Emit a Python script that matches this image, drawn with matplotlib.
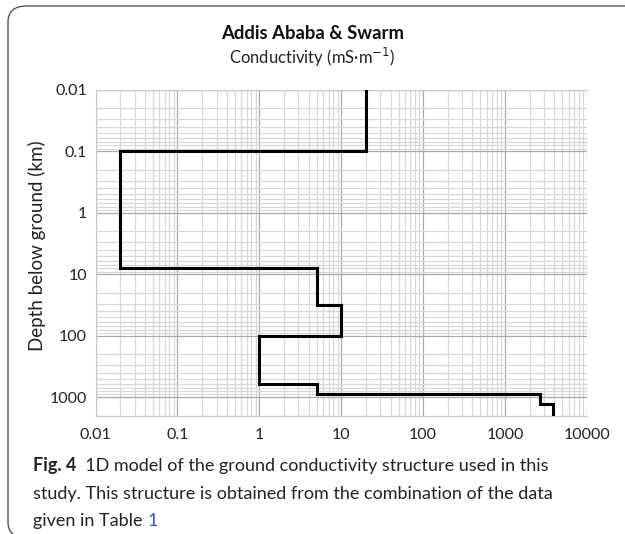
import numpy as np
import matplotlib.pyplot as plt
from matplotlib.patches import FancyBboxPatch

# layered conductivity model: top depth (km) and conductivity (mS/m) of each layer
layer_top = [0.01, 0.1, 8, 32, 100, 600, 900, 1300]
conductivity = [20, 0.02, 5, 10, 1, 5, 2700, 3800]
bottom_depth = 2000

x_ticks = [0.01, 0.1, 1, 10, 100, 1000, 10000]
y_ticks = [0.01, 0.1, 1, 10, 100, 1000]

plt.rcParams['font.family'] = ['Lato', 'DejaVu Sans']

fig = plt.figure(figsize=(6.25, 5.34), dpi=100)

# rounded frame around the figure and caption (bottom and right run off the page)
frame = FancyBboxPatch((8 / 625, -4 / 534), 640 / 625, 532 / 534,
                       boxstyle='round,pad=0,rounding_size=0.03',
                       transform=fig.transFigure, facecolor='none',
                       edgecolor='#555555', linewidth=1.0, clip_on=False)
fig.patches.append(frame)

ax = fig.add_axes([0.1528, 0.2215, 0.7864, 0.61])

# build the step outline: each layer is a vertical segment
bottoms = layer_top[1:] + [bottom_depth]
xs, ys = [], []
for c, t, b in zip(conductivity, layer_top, bottoms):
    xs += [c, c]
    ys += [t, b]
ax.plot(xs, ys, color='black', lw=2.2, solid_joinstyle='miter', zorder=3)

ax.set_xscale('log')
ax.set_yscale('log')
ax.set_xlim(0.01, 10000)
ax.set_ylim(bottom_depth, 0.01)

ax.set_xticks(x_ticks)
ax.set_xticklabels([f'{v:g}' for v in x_ticks])
ax.set_yticks(y_ticks)
ax.set_yticklabels([f'{v:g}' for v in y_ticks])
ax.tick_params(which='both', length=0, labelsize=11.5, colors='#222222')
ax.tick_params(axis='x', pad=9)
ax.tick_params(axis='y', pad=6)

ax.grid(True, which='major', color='#aaaaaa', lw=0.9)
ax.grid(True, which='minor', color='#d8d8d8', lw=0.9)
ax.set_axisbelow(True)
for s in ax.spines.values():
    s.set_color('#c8c8c8')
ax.spines['right'].set_visible(False)

ax.set_ylabel('Depth below ground (km)', fontsize=13.5, color='#222222')
ax.yaxis.set_label_coords(-0.100, 0.521)

fig.text(0.5, 0.938, 'Addis Ababa & Swarm', ha='center', va='center',
         fontsize=13.3, fontweight='bold', color='#111111')
fig.text(0.5, 0.893, 'Conductivity (mS\u00b7m$^{-1}$)', ha='center', va='center',
         fontsize=12, color='#222222')

# caption, with the bold figure number and the blue table reference
renderer = fig.canvas.get_renderer()
cap_size = 13
x0 = 33 / 625
t = fig.text(x0, 1 - 466 / 534, 'Fig. 4', fontsize=cap_size, fontweight='bold',
             va='center', color='#222222')
w = t.get_window_extent(renderer).width / 625
fig.text(x0 + w, 1 - 466 / 534, '  1D model of the ground conductivity structure used in this',
         fontsize=cap_size, va='center', color='#222222')
fig.text(x0, 1 - 494 / 534, 'study. This structure is obtained from the combination of the data',
         fontsize=cap_size, va='center', color='#222222')
t = fig.text(x0, 1 - 521 / 534, 'given in Table ', fontsize=cap_size, va='center', color='#222222')
w = t.get_window_extent(renderer).width / 625
fig.text(x0 + w, 1 - 521 / 534, '1', fontsize=cap_size, va='center', color='#3355cc')

fig.savefig('out.png', dpi=100)
